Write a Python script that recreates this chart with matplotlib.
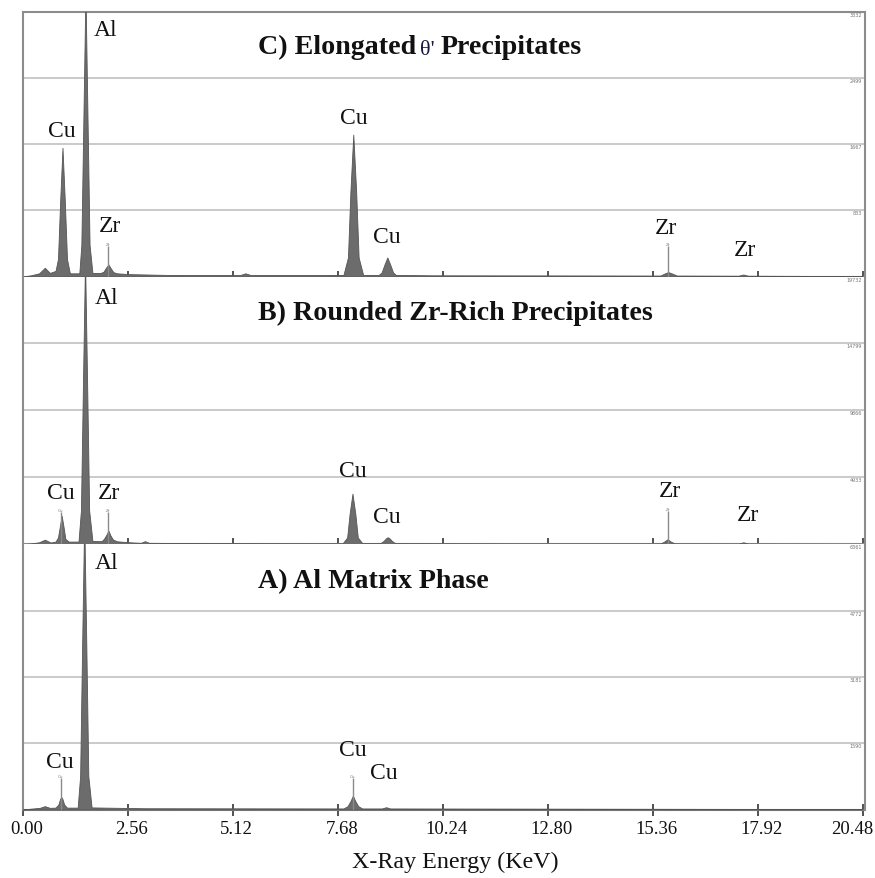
import matplotlib.pyplot as plt
import matplotlib.transforms as mtransforms
import numpy as np

plt.rcParams['font.family'] = ['Liberation Serif', 'DejaVu Serif']

# ---- data (energy in keV, intensity in counts) ----
x_ticks = [0.00, 2.56, 5.12, 7.68, 10.24, 12.80, 15.36, 17.92, 20.48]

# C) elongated theta' precipitates
energy_c = [0.00, 0.20, 0.40, 0.54, 0.66, 0.80, 0.86, 0.915, 0.97, 1.025, 1.08, 1.15,
            1.38, 1.43, 1.48, 1.53, 1.58, 1.63, 1.70, 1.90, 1.97, 2.03, 2.09, 2.15,
            2.21, 2.30, 2.60, 3.50, 5.30, 5.43, 5.56, 7.82, 7.93, 7.99, 8.06, 8.13,
            8.19, 8.30, 8.68, 8.75, 8.82, 8.89, 8.96, 9.03, 9.10, 10.0, 15.55, 15.66,
            15.74, 15.82, 15.95, 17.45, 17.57, 17.68, 20.48]
counts_c = [0, 15, 40, 110, 45, 70, 220, 970, 1620, 970, 220, 40,
            40, 400, 2000, 3600, 2000, 400, 45, 45, 60, 110, 150, 100,
            55, 40, 30, 20, 18, 40, 18, 20, 240, 1070, 1785, 1070,
            240, 20, 20, 50, 150, 240, 150, 50, 20, 15, 12, 40,
            55, 40, 12, 10, 25, 10, 5]
levels_c = [833, 1667, 2499, 3332]

# B) rounded Zr-rich precipitates
energy_b = [0.00, 0.20, 0.40, 0.54, 0.68, 0.80, 0.86, 0.905, 0.95, 0.995, 1.04, 1.12,
            1.36, 1.42, 1.47, 1.52, 1.57, 1.62, 1.70, 1.92, 1.98, 2.04, 2.09, 2.14,
            2.20, 2.30, 2.60, 2.88, 2.98, 3.08, 4.00, 7.00, 7.80, 7.91, 7.97, 8.04,
            8.11, 8.17, 8.28, 8.72, 8.80, 8.86, 8.90, 8.94, 9.00, 9.08, 12.0, 15.55,
            15.64, 15.72, 15.80, 15.90, 17.46, 17.57, 17.68, 20.48]
counts_b = [0, 60, 150, 340, 130, 200, 500, 1300, 2100, 1300, 400, 200,
            200, 2500, 12000, 21000, 12000, 2500, 250, 230, 400, 700, 1010, 650,
            350, 220, 150, 110, 230, 110, 90, 70, 70, 500, 2240, 3730,
            2240, 500, 80, 80, 250, 450, 520, 450, 250, 80, 60, 60,
            200, 370, 200, 60, 50, 150, 50, 30]
levels_b = [4933, 9866, 14799, 19732]

# A) Al matrix phase
energy_a = [0.00, 0.20, 0.42, 0.54, 0.66, 0.80, 0.87, 0.91, 0.94, 0.97, 1.01, 1.08,
            1.34, 1.40, 1.45, 1.50, 1.55, 1.60, 1.68, 3.00, 7.82, 7.92, 7.99, 8.05,
            8.11, 8.18, 8.28, 8.76, 8.86, 8.96, 20.48]
counts_a = [0, 20, 40, 80, 40, 45, 120, 250, 300, 250, 120, 45,
            45, 800, 4000, 7000, 4000, 800, 50, 30, 25, 80, 200, 330,
            200, 80, 25, 25, 55, 25, 10]
levels_a = [1590, 3181, 4772, 6361]

# line markers (element, energy, marker top in counts)
markers_c = [('Zr', 2.09, 390), ('Zr', 15.74, 390)]
markers_b = [('Cu', 0.93, 2400), ('Zr', 2.09, 2400), ('Zr', 15.74, 2450)]
markers_a = [('Cu', 0.93, 745), ('Cu', 8.05, 760)]

# peak labels: text, energy
labels_c = [('Al', 2.03), ('Cu', 0.96), ('Zr', 2.13), ('Cu', 8.08), ('Cu', 8.88),
            ('Zr', 15.69), ('Zr', 17.62)]
labels_b = [('Al', 2.05), ('Cu', 0.93), ('Zr', 2.11), ('Cu', 8.06), ('Cu', 8.88),
            ('Zr', 15.79), ('Zr', 17.67)]
labels_a = [('Al', 2.05), ('Cu', 0.91), ('Cu', 8.05), ('Cu', 8.81)]

# ---- layout ----
W, H = 875, 879
label_y_c = [0.934, 0.552, 0.193, 0.602, 0.151, 0.185, 0.102]
label_y_b = [0.921, 0.195, 0.195, 0.276, 0.103, 0.202, 0.110]
label_y_a = [0.932, 0.180, 0.228, 0.140]

fig = plt.figure(figsize=(W / 100, H / 100), dpi=100)


def panel(top, bottom, energy, counts, levels, markers, labels, label_y,
          title_bits, title_y, bottom_axis=False, top_spine=True):
    ax = fig.add_axes([22.7 / W, 1 - bottom / H, 842 / W, (bottom - top) / H])
    ax.set_xlim(0, 20.48 * 842 / 840)
    ax.set_ylim(0, levels[-1])
    ax.fill_between(energy, counts, color='#6c6c6c', lw=0.6, edgecolor='#555555', zorder=3)

    ax.set_yticks(levels[:-1])
    ax.yaxis.grid(True, color='#c6c6c6', lw=1.3)
    ax.tick_params(axis='y', length=0, labelleft=False)
    for lv in levels:
        ax.text(0.997, lv, str(lv), transform=ax.get_yaxis_transform(),
                ha='right', va='top', fontsize=3.5, color='#777777', family='DejaVu Sans')

    ax.set_xticks(x_ticks)
    ax.tick_params(axis='x', direction='inout', length=9, width=1.1, color='#222222',
                   labelbottom=bottom_axis, labelsize=13.5, pad=3, labelcolor='#111111')
    if bottom_axis:
        ticklabels = ax.get_xticklabels()
        for lab in ticklabels[:-1]:
            lab.set_transform(lab.get_transform() +
                              mtransforms.ScaledTranslation(4 / 100, 0, fig.dpi_scale_trans))
        ticklabels[-1].set_horizontalalignment('right')
        ticklabels[-1].set_transform(ticklabels[-1].get_transform() +
                                     mtransforms.ScaledTranslation(11 / 100, 0, fig.dpi_scale_trans))

    for s in ax.spines.values():
        s.set_color('#8c8c8c')
        s.set_linewidth(1.5)
    ax.spines['top'].set_visible(top_spine)

    for el, e, top_c in markers:
        ax.vlines(e, 0, top_c, color='#8a8a8a', lw=1.0, zorder=4)
        ax.text(e, top_c, el, ha='center', va='bottom', fontsize=3, color='#777777',
                family='DejaVu Sans')

    for (txt, e), fy in zip(labels, label_y):
        ax.text(e, fy, txt, transform=ax.get_xaxis_transform(), ha='center', va='center',
                fontsize=17, color='#111111', zorder=5)

    t = ax.text(0.2795, title_y, title_bits[0], transform=ax.transAxes, ha='left',
                va='bottom', fontsize=20.2, fontweight='bold', color='#111111')
    if len(title_bits) > 1:
        t2 = ax.annotate(title_bits[1], xy=(1, 0), xycoords=t, ha='left', va='bottom',
                         xytext=(3, 0), textcoords='offset points',
                         fontsize=16, color='#1a1a40')
        ax.annotate(title_bits[2], xy=(1, 0), xycoords=t2, ha='left', va='bottom',
                    xytext=(4, 0), textcoords='offset points',
                    fontsize=20.2, fontweight='bold', color='#111111')
    return ax


panel(12.7, 277.5, energy_c, counts_c, levels_c, markers_c, labels_c, label_y_c,
      ['C) Elongated', "\u03b8'", 'Precipitates'], 0.82)
panel(277.5, 545.3, energy_b, counts_b, levels_b, markers_b, labels_b, label_y_b,
      ['B) Rounded Zr-Rich Precipitates'], 0.82, top_spine=False)
panel(545.3, 810.5, energy_a, counts_a, levels_a, markers_a, labels_a, label_y_a,
      ['A) Al Matrix Phase'], 0.815, bottom_axis=True, top_spine=False)

fig.text(455 / W, 1 - 862 / H, 'X-Ray Energy (KeV)', ha='center', va='center',
         fontsize=17.3, color='#111111')

fig.savefig('out.png', dpi=100, facecolor='white')
